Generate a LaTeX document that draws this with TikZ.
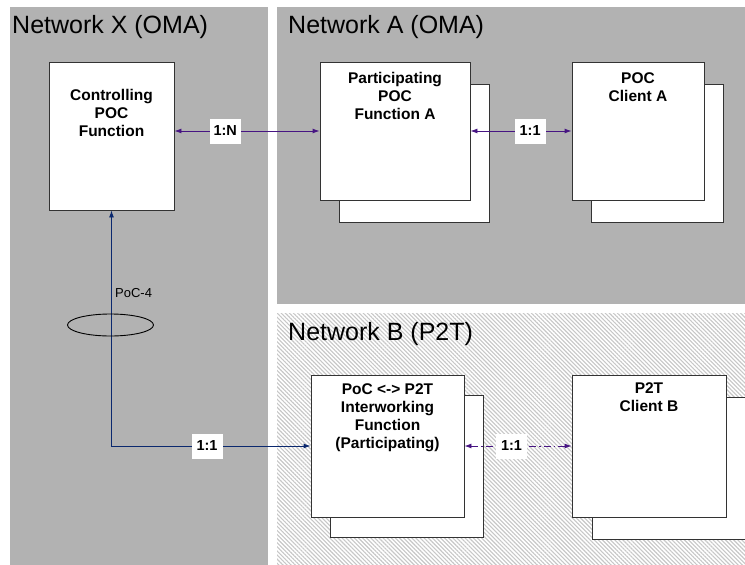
\documentclass[tikz,border=0pt]{standalone}
\usepackage{fontspec}
\setmainfont{Liberation Sans}
\usetikzlibrary{arrows.meta,patterns.meta}
\definecolor{netgray}{RGB}{178,178,178}
\definecolor{linkpurple}{RGB}{70,20,130}
\definecolor{linknavy}{RGB}{10,40,110}
\begin{document}
\begin{tikzpicture}[
    x=1pt,
    y=-1pt,
    net/.style={fill=netgray},
    hatched/.style={pattern={Lines[angle=-45,distance=2.9pt,line width=1.1pt]}, pattern color=black!22},
    fnbox/.style={draw=black!80, line width=0.9pt, fill=white, inner sep=0pt},
    boxtext/.style={font=\bfseries\fontsize{15.5}{18}\selectfont, align=center, anchor=north, inner sep=0pt},
    nettitle/.style={font=\fontsize{25}{30}\selectfont, anchor=base west, inner sep=0pt},
    link/.style={line width=0.9pt, {Latex[length=7pt,width=5pt]}-{Latex[length=7pt,width=5pt]}},
    ratio/.style={fill=white, font=\bfseries\fontsize{14.5}{17}\selectfont, minimum width=31pt, minimum height=25pt, inner sep=0pt}
  ]
    \useasboundingbox (0,0) rectangle (745,565);
    \fill[white] (0,0) rectangle (745,565);
    \fill[net] (10,7) rectangle (268,565);
    \fill[net] (277,7) rectangle (745,304);
    \path[hatched] (277,313) rectangle (745,565);
    \node[nettitle] (netX) at (12,33) {Network X (OMA)};
    \node[nettitle] (netA) at (288,33) {Network A (OMA)};
    \node[nettitle] (netB) at (288,340) {Network B (P2T)};
    \node[fnbox, minimum width=125pt, minimum height=148pt] (ctrl) at (111.5,136) {};
    \node[fnbox, minimum width=150pt, minimum height=138pt] (partAback) at (414,153) {};
    \node[fnbox, minimum width=150pt, minimum height=138pt] (partA) at (395,131) {};
    \node[fnbox, minimum width=132pt, minimum height=138pt] (clientAback) at (657,153) {};
    \node[fnbox, minimum width=132pt, minimum height=138pt] (clientA) at (638,131) {};
    \node[fnbox, minimum width=153pt, minimum height=142pt] (iwfback) at (406.5,466) {};
    \node[fnbox, minimum width=153pt, minimum height=142pt] (iwf) at (387.5,446) {};
    \node[fnbox, minimum width=153pt, minimum height=142pt] (clientBback) at (668.5,468) {};
    \node[fnbox, minimum width=154pt, minimum height=142pt] (clientB) at (649,446) {};
    \node[boxtext] (ctrltext) at (111.5,89) {Controlling\\POC\\Function};
    \node[boxtext] (partAtext) at (395,72) {Participating\\POC\\Function A};
    \node[boxtext] (clientAtext) at (638,72) {POC\\Client A};
    \node[boxtext] (iwftext) at (387.5,383) {PoC <-> P2T\\Interworking\\Function\\(Participating)};
    \node[boxtext] (clientBtext) at (649,382) {P2T\\Client B};
    \draw[link, linkpurple] (ctrl.east |- partA.west) -- (partA.west)
      node[ratio, text=black, pos=0.35] (ratioN) {1:N};
    \draw[link, linkpurple] (partA.east) -- (clientA.west)
      node[ratio, text=black, pos=0.59] (ratioA) {1:1};
    \draw[link, linknavy] (iwf.west) -| (ctrl.south)
      node[ratio, text=black, pos=0.26] (ratioX) {1:1};
    \draw[link, linkpurple, dash pattern=on 7pt off 3pt on 1.5pt off 3pt] (iwf.east) -- (clientB.west)
      node[ratio, text=black, pos=0.44] (ratioB) {1:1};
    \draw[line width=0.9pt] (110.5,325) ellipse [x radius=43, y radius=11];
    \node[font=\fontsize{13}{15}\selectfont, anchor=west, inner sep=0pt] (poc4) at (115,293) {PoC-4};
  \end{tikzpicture}
\end{document}
